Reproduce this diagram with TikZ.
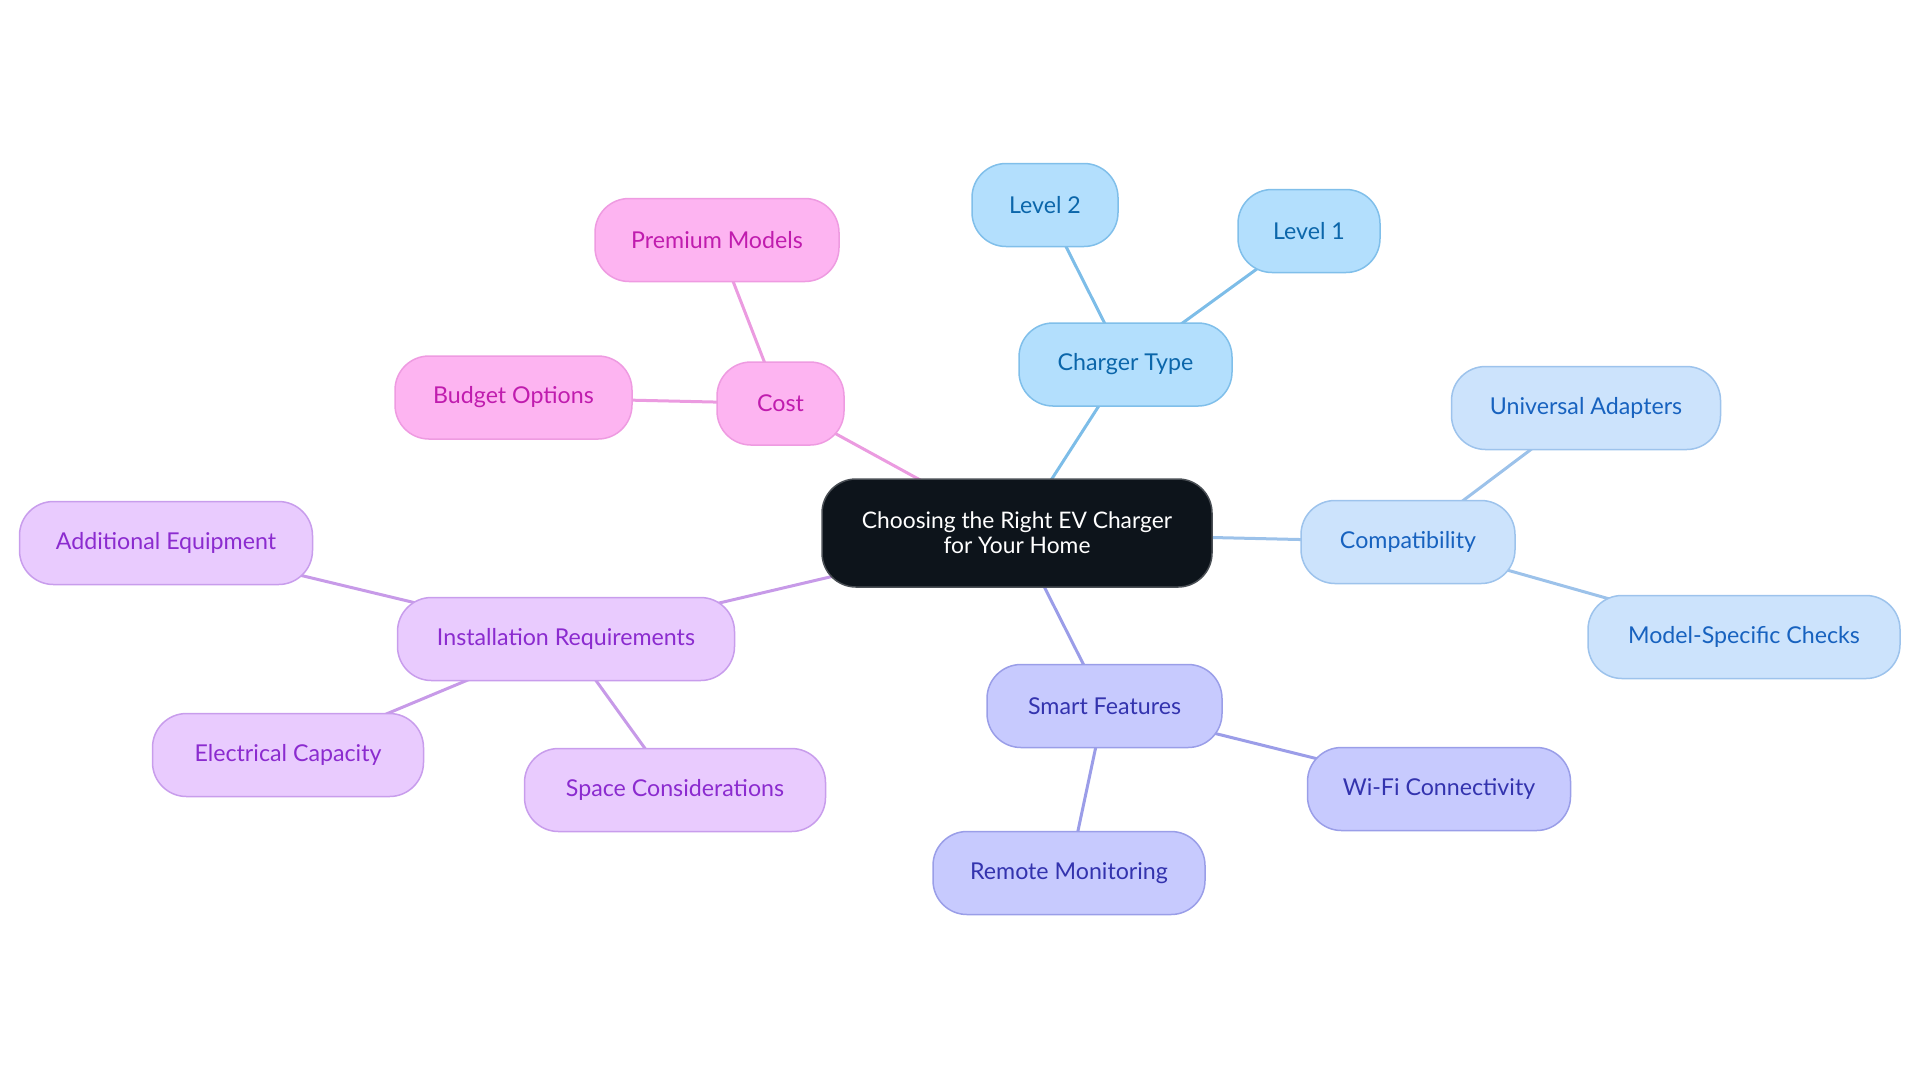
\documentclass[tikz,border=0pt]{standalone}
\usepackage{fontspec}
\setmainfont{Lato}
\usetikzlibrary{backgrounds}
\definecolor{cfill}{HTML}{0D141B}
\definecolor{cdraw}{HTML}{4A4F55}
\definecolor{bfill}{HTML}{B3DFFD}
\definecolor{bdraw}{HTML}{80BFEA}
\definecolor{btext}{HTML}{0B66AA}
\definecolor{blne}{HTML}{7DBDE8}
\definecolor{kfill}{HTML}{CCE3FC}
\definecolor{kdraw}{HTML}{9DC3EC}
\definecolor{ktext}{HTML}{1762BF}
\definecolor{klne}{HTML}{9CC2EA}
\definecolor{sfill}{HTML}{C7CAFE}
\definecolor{sdraw}{HTML}{9A9EE8}
\definecolor{stext}{HTML}{3333AE}
\definecolor{slne}{HTML}{9B9DE8}
\definecolor{ifill}{HTML}{E9CBFE}
\definecolor{idraw}{HTML}{C89DEC}
\definecolor{itext}{HTML}{8B2BCF}
\definecolor{ilne}{HTML}{C79AE8}
\definecolor{pfill}{HTML}{FDB4F1}
\definecolor{pdraw}{HTML}{EE9BE1}
\definecolor{ptext}{HTML}{C01CAE}
\definecolor{plne}{HTML}{EB9BE0}
\tikzset{
  box/.style={rounded corners=17pt, line width=0.75pt, minimum height=41.5pt, inner sep=0pt, align=center, font=\fontsize{11.6}{12.5}\selectfont},
  centre/.style={box, fill=cfill, draw=cdraw, text=white, minimum height=54pt, minimum width=195pt, font=\fontsize{11.4}{12.5}\selectfont},
  blue/.style={box, fill=bfill, draw=bdraw, text=btext},
  comp/.style={box, fill=kfill, draw=kdraw, text=ktext},
  smart/.style={box, fill=sfill, draw=sdraw, text=stext},
  inst/.style={box, fill=ifill, draw=idraw, text=itext},
  cost/.style={box, fill=pfill, draw=pdraw, text=ptext},
  link/.style={line width=1.5pt}
}
\begin{document}
\begin{tikzpicture}[x=0.5pt, y=-0.5pt]
\useasboundingbox (0,0) rectangle (1920,1083);
\node[centre] (c) at (1017,533) {Choosing the Right EV Charger\\for Your Home};
\node[blue, minimum width=106.5pt] (ct) at (1125.5,364.5) {Charger Type};
\node[blue, minimum width=73pt] (l2) at (1045,205) {Level 2};
\node[blue, minimum width=71pt] (l1) at (1309,231) {Level 1};
\node[comp, minimum width=107pt] (co) at (1408,542) {Compatibility};
\node[comp, minimum width=134.5pt] (ua) at (1586,408) {Universal Adapters};
\node[comp, minimum width=156pt] (ms) at (1744,637) {Model-Specific Checks};
\node[smart, minimum width=117.5pt] (sf) at (1104.5,706) {Smart Features};
\node[smart, minimum width=131.5pt] (wf) at (1439,789) {Wi-Fi Connectivity};
\node[smart, minimum width=136pt] (rm) at (1069,873) {Remote Monitoring};
\node[inst, minimum width=168.5pt] (ir) at (566,639) {Installation Requirements};
\node[inst, minimum width=146.5pt] (ae) at (166,543) {Additional Equipment};
\node[inst, minimum width=135.5pt] (ec) at (288,755) {Electrical Capacity};
\node[inst, minimum width=150.5pt] (sc) at (675,790) {Space Considerations};
\node[cost, minimum width=63.5pt] (cs) at (780.5,403.5) {Cost};
\node[cost, minimum width=122pt] (pm) at (717,240) {Premium Models};
\node[cost, minimum width=118.5pt] (bo) at (513.5,397.5) {Budget Options};
\begin{scope}[on background layer]
\draw[link, blne] (c.center) -- (ct.center);
\draw[link, blne] (ct.center) -- (l2.center);
\draw[link, blne] (ct.center) -- (l1.center);
\draw[link, klne] (c.center) -- (co.center);
\draw[link, klne] (co.center) -- (ua.center);
\draw[link, klne] (co.center) -- (ms.center);
\draw[link, slne] (c.center) -- (sf.center);
\draw[link, slne] (sf.center) -- (wf.center);
\draw[link, slne] (sf.center) -- (rm.center);
\draw[link, ilne] (c.center) -- (ir.center);
\draw[link, ilne] (ir.center) -- (ae.center);
\draw[link, ilne] (ir.center) -- (ec.center);
\draw[link, ilne] (ir.center) -- (sc.center);
\draw[link, plne] (c.center) -- (cs.center);
\draw[link, plne] (cs.center) -- (pm.center);
\draw[link, plne] (cs.center) -- (bo.center);
\end{scope}
\end{tikzpicture}
\end{document}
